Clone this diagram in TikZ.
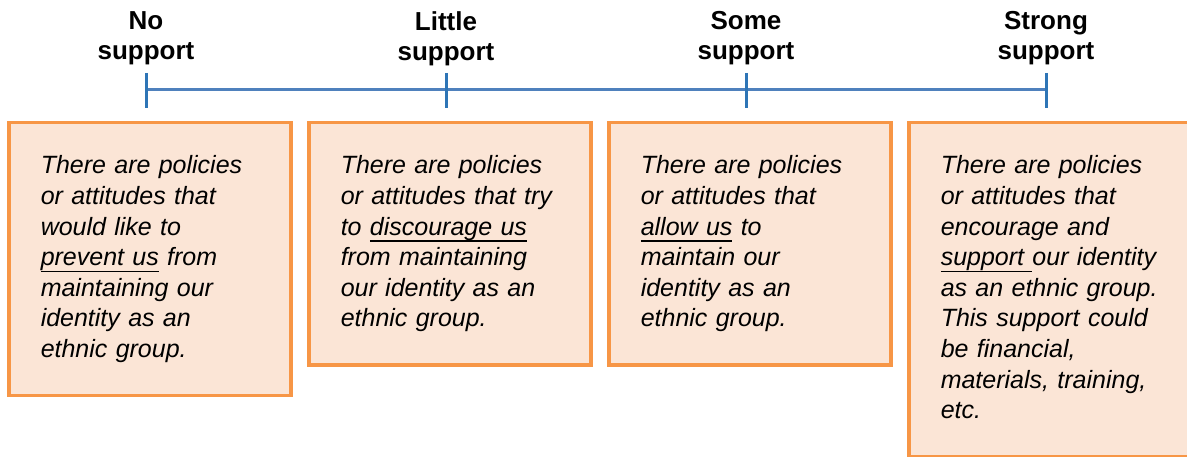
\documentclass[tikz,border=0pt]{standalone}
\usepackage{fontspec}
\setmainfont{Liberation Sans}
\usetikzlibrary{positioning}
\definecolor{axisblue}{RGB}{79,129,189}
\definecolor{tickblue}{RGB}{46,117,182}
\definecolor{boxline}{RGB}{247,150,70}
\definecolor{boxfill}{RGB}{251,229,214}
\hyphenpenalty=10000
\newsavebox{\ulbox}
\newcommand{\ulword}[1]{\leavevmode\sbox{\ulbox}{#1}\rlap{\rule[-6.5pt]{\wd\ulbox}{1.6pt}}\usebox{\ulbox}}
\tikzset{
  levellabel/.style={font=\bfseries\fontsize{26}{30}\selectfont, align=center, inner sep=0pt, anchor=north},
  descbox/.style={draw=boxline, fill=boxfill, line width=3.5pt, anchor=north west,
    text width=218pt, inner xsep=32pt, inner ysep=33pt, align=left,
    font=\itshape\fontsize{25}{30.6}\selectfont},
  axisline/.style={axisblue, line width=3pt},
  tickmark/.style={tickblue, line width=3pt}
}
\begin{document}
\begin{tikzpicture}[x=1pt,y=-1pt]
                  \useasboundingbox (0,0) rectangle (1187,457);
                  % scale
                  \coordinate (p1) at (146,90);
                  \coordinate (p2) at (446,90);
                  \coordinate (p3) at (746,90);
                  \coordinate (p4) at (1046,90);
                  \draw[axisline] (p1) -- (p4);
                  \draw[tickmark] ([yshift=17pt]p1) -- ([yshift=-18pt]p1);
                  \draw[tickmark] ([yshift=17pt]p2) -- ([yshift=-18pt]p2);
                  \draw[tickmark] ([yshift=17pt]p3) -- ([yshift=-18pt]p3);
                  \draw[tickmark] ([yshift=17pt]p4) -- ([yshift=-18pt]p4);
                  \node[levellabel] (none) at (146,11) {No\\support};
                  \node[levellabel] (little) at (446,11) {Little\\support};
                  \node[levellabel] (some) at (746,11) {Some\\support};
                  \node[levellabel] (strong) at (1046,11) {Strong\\support};
                  % boxes
                  \node[descbox] (prevent) at (7,121) {There are policies\\or attitudes that\\would like to\\\ulword{prevent us} from\\maintaining our\\identity as an\\ethnic group.};
                  \node[descbox] (discourage) at (307,121) {There are policies\\or attitudes that try\\to \ulword{discourage us}\\from maintaining\\our identity as an\\ethnic group.};
                  \node[descbox] (allow) at (607,121) {There are policies\\or attitudes that\\\ulword{allow us} to\\maintain our\\identity as an\\ethnic group.};
                  \node[descbox] (encourage) at (907,121) {There are policies\\or attitudes that\\encourage and\\\ulword{support }our identity\\as an ethnic group.\\This support could\\be financial,\\materials, training,\\etc.\vphantom{g}};
              \end{tikzpicture}
\end{document}
